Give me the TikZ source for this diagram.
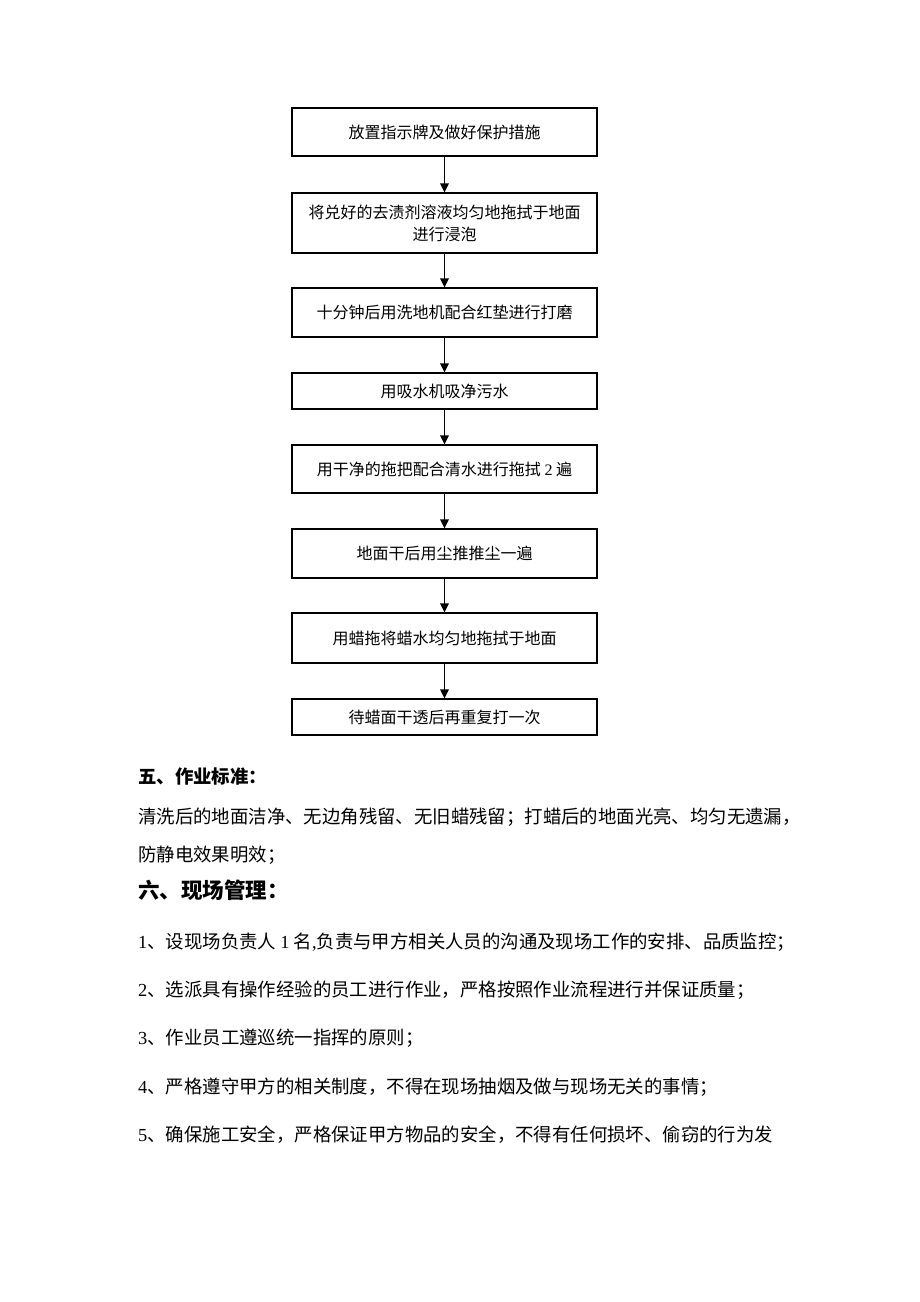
\documentclass[tikz,border=0pt]{standalone}
\usepackage{fontspec}
\setmainfont{Noto Sans CJK SC}
\newfontfamily\latin{Liberation Serif}
\usepackage{xcolor}
\usepackage{tikz}
\usetikzlibrary{arrows.meta}
\tikzset{
  flowbox/.style={draw,line width=1.2pt,minimum width=305pt,inner sep=0pt,align=center,font=\fontsize{16}{22}\selectfont},
  flowarrow/.style={-{Triangle[length=9pt,width=8.5pt]},line width=1.9pt},
  bodytext/.style={anchor=west,inner sep=0pt,font=\fontsize{18.4}{22}\selectfont},
  headtext/.style={anchor=west,inner sep=0pt,font=\bfseries\fontsize{18.4}{22}\selectfont}
}

\begin{document}
\begin{tikzpicture}[x=1pt,y=-1pt]
  \useasboundingbox (0,0) rectangle (920,1302);
  % 流程框
  \node[flowbox,minimum height=48pt] (b1) at (444.5,132) {放置指示牌及做好保护措施};
  \node[flowbox,minimum height=60pt] (b2) at (444.5,223) {将兑好的去渍剂溶液均匀地拖拭于地面\\进行浸泡};
  \node[flowbox,minimum height=49pt] (b3) at (444.5,312.5) {十分钟后用洗地机配合红垫进行打磨};
  \node[flowbox,minimum height=36pt] (b4) at (444.5,391) {用吸水机吸净污水};
  \node[flowbox,minimum height=48pt] (b5) at (444.5,469) {用干净的拖把配合清水进行拖拭 {\latin 2} 遍};
  \node[flowbox,minimum height=49pt] (b6) at (444.5,553.5) {地面干后用尘推推尘一遍};
  \node[flowbox,minimum height=50pt] (b7) at (444.5,638) {用蜡拖将蜡水均匀地拖拭于地面};
  \node[flowbox,minimum height=36pt] (b8) at (444.5,717) {待蜡面干透后再重复打一次};
  \foreach \a/\b in {b1/b2,b2/b3,b3/b4,b4/b5,b5/b6,b6/b7,b7/b8}
  \draw[flowarrow] (\a) -- (\b);
  % 正文
  \node[headtext] (std title) at (138,777) {五、作业标准：};
  \node[bodytext] (std line1) at (138,817) {清洗后的地面洁净、无边角残留、无旧蜡残留；打蜡后的地面光亮、均匀无遗漏，};
  \node[bodytext] (std line2) at (138,855) {防静电效果明效；};
  \node[headtext,font=\bfseries\fontsize{21.5}{26}\selectfont] (mgmt title) at (138,890) {六、现场管理：};
  \node[bodytext] (mgmt item1) at (138,942) {{\latin 1}、设现场负责人 {\latin 1} 名{\latin ,}负责与甲方相关人员的沟通及现场工作的安排、品质监控；};
  \node[bodytext] (mgmt item2) at (138,990) {{\latin 2}、选派具有操作经验的员工进行作业，严格按照作业流程进行并保证质量；};
  \node[bodytext] (mgmt item3) at (138,1038) {{\latin 3}、作业员工遵巡统一指挥的原则；};
  \node[bodytext] (mgmt item4) at (138,1087) {{\latin 4}、严格遵守甲方的相关制度，不得在现场抽烟及做与现场无关的事情；};
  \node[bodytext] (mgmt item5) at (138,1135) {{\latin 5}、确保施工安全，严格保证甲方物品的安全，不得有任何损坏、偷窃的行为发};
\end{tikzpicture}
\end{document}
